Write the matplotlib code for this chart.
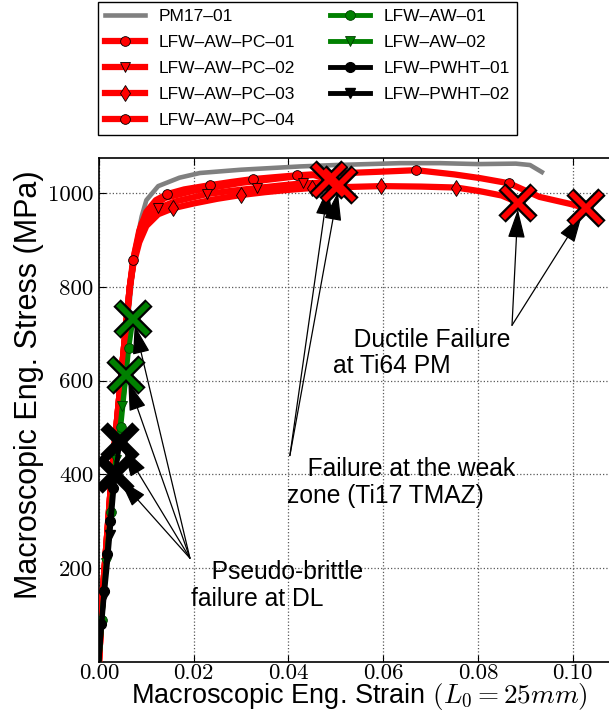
import matplotlib
matplotlib.use('Agg')
import matplotlib.pyplot as plt
from matplotlib.ticker import FuncFormatter

plt.rcParams['font.family'] = ['Liberation Sans', 'DejaVu Sans']
plt.rcParams['mathtext.fontset'] = 'cm'
plt.rcParams['axes.formatter.use_mathtext'] = True

# ---------------- data ----------------
pm_strain = [0, 0.0010, 0.0040, 0.0070, 0.0083, 0.0090, 0.0100, 0.0125, 0.0170, 0.0213,
             0.030, 0.0425, 0.050, 0.0636, 0.072, 0.080, 0.088, 0.091, 0.0935]
pm_stress = [0, 200, 520, 820, 915, 950, 985, 1015, 1033, 1043,
             1050, 1057, 1060, 1064, 1064, 1062, 1063, 1060, 1045]

pc1_strain = [0, 0.0008, 0.0027, 0.0046, 0.0065, 0.0072, 0.0085, 0.0100, 0.0120, 0.0144,
              0.0180, 0.0234, 0.0280, 0.0325, 0.0370, 0.0418, 0.0450, 0.0486]
pc1_stress = [0, 150, 400, 600, 800, 857, 920, 960, 985, 998,
              1008, 1017, 1024, 1030, 1034, 1038, 1040, 1028]
pc1_mk_strain = [0.0072, 0.0144, 0.0234, 0.0325, 0.0418]
pc1_mk_stress = [857, 998, 1017, 1030, 1038]

pc2_strain = [0, 0.0008, 0.0027, 0.0046, 0.0065, 0.0072, 0.0085, 0.0100, 0.0125, 0.0160,
              0.0228, 0.0280, 0.0334, 0.0380, 0.0430, 0.0470, 0.0507]
pc2_stress = [0, 150, 400, 600, 800, 850, 905, 940, 968, 982,
              998, 1005, 1011, 1016, 1021, 1022, 1017]
pc2_mk_strain = [0.0125, 0.0228, 0.0334, 0.0430]
pc2_mk_stress = [968, 998, 1011, 1021]

pc3_strain = [0, 0.0008, 0.0027, 0.0046, 0.0065, 0.0072, 0.0085, 0.0100, 0.0125, 0.0157,
              0.0200, 0.0250, 0.0300, 0.0350, 0.0400, 0.0450, 0.0520, 0.0596, 0.0680,
              0.0754, 0.0805, 0.0850, 0.0885]
pc3_stress = [0, 150, 400, 600, 800, 845, 895, 930, 955, 968,
              978, 988, 996, 1002, 1007, 1011, 1013, 1015, 1014,
              1012, 1004, 995, 980]
pc3_mk_strain = [0.0157, 0.0300, 0.0450, 0.0596, 0.0754]
pc3_mk_stress = [968, 996, 1011, 1015, 1012]

pc4_strain = [0, 0.0008, 0.0027, 0.0046, 0.0065, 0.0075, 0.0090, 0.0110, 0.0140, 0.0200,
              0.0300, 0.0418, 0.0500, 0.0600, 0.0670, 0.0750, 0.0805, 0.0866, 0.0930,
              0.0995, 0.1028]
pc4_stress = [0, 150, 400, 600, 800, 870, 935, 970, 990, 1005,
              1022, 1036, 1042, 1046, 1049, 1040, 1032, 1021, 992,
              977, 968]
pc4_mk_strain = [0.0670, 0.0866]
pc4_mk_stress = [1049, 1021]

aw1_strain = [0, 0.0006, 0.0015, 0.0025, 0.0035, 0.0046, 0.0055, 0.0063, 0.0072]
aw1_stress = [0, 90, 200, 320, 420, 500, 590, 670, 732]
aw1_mk_strain = [0.0006, 0.0025, 0.0046, 0.0063]
aw1_mk_stress = [90, 320, 500, 670]

aw2_strain = [0, 0.0006, 0.0015, 0.0025, 0.0035, 0.0043, 0.0049, 0.0057]
aw2_stress = [0, 90, 210, 330, 430, 490, 545, 611]
aw2_mk_strain = [0.0015, 0.0035, 0.0049]
aw2_mk_stress = [210, 430, 545]

pw1_strain = [0, 0.0005, 0.0010, 0.0017, 0.0023, 0.0030, 0.0037, 0.0044]
pw1_stress = [0, 80, 150, 230, 300, 370, 420, 468]
pw1_mk_strain = [0.0005, 0.0010, 0.0017, 0.0023, 0.0030]
pw1_mk_stress = [80, 150, 230, 300, 370]

pw2_strain = [0, 0.0005, 0.0011, 0.0017, 0.0023, 0.0029, 0.0034]
pw2_stress = [0, 70, 140, 200, 270, 340, 400]
pw2_mk_strain = [0.0011, 0.0023]
pw2_mk_stress = [140, 270]

labels = ['PM17\u201301', 'LFW\u2013AW\u2013PC\u201301', 'LFW\u2013AW\u2013PC\u201302',
          'LFW\u2013AW\u2013PC\u201303', 'LFW\u2013AW\u2013PC\u201304',
          'LFW\u2013AW\u201301', 'LFW\u2013AW\u201302', 'LFW\u2013PWHT\u201301', 'LFW\u2013PWHT\u201302']

x_ticks = [0.00, 0.02, 0.04, 0.06, 0.08, 0.10]
y_ticks = [200, 400, 600, 800, 1000]

# ---------------- figure ----------------
fig = plt.figure(figsize=(6.09, 7.22), dpi=100)
ax = fig.add_axes([99 / 609, 60.25 / 722, 521 / 609, 503.75 / 722])
ax.set_xlim(0, 0.11)
ax.set_ylim(0, 1075)
ax.set_xticks(x_ticks)
ax.set_yticks(y_ticks)
ax.xaxis.set_major_formatter(FuncFormatter(lambda v, p: f'{v:.2f}'))
ax.yaxis.set_major_formatter(FuncFormatter(lambda v, p: f'{int(round(v))}'))
ax.grid(True, ls=':', color='0.35', lw=0.9)
ax.tick_params(direction='in', length=5, top=True, right=False, labelsize=16.5,
               labelfontfamily='cmr10')
ax.tick_params(axis='x', pad=1)
ax.tick_params(axis='y', pad=4)
for s in ['left', 'bottom', 'top']:
    ax.spines[s].set_linewidth(1.2)
ax.spines['right'].set_visible(False)

handles = []

ln, = ax.plot(pm_strain, pm_stress, color='#808080', lw=3.3, zorder=2)
handles.append(ln)

red_sets = [(pc1_strain, pc1_stress, pc1_mk_strain, pc1_mk_stress, 'o', 7),
            (pc2_strain, pc2_stress, pc2_mk_strain, pc2_mk_stress, 'v', 7),
            (pc3_strain, pc3_stress, pc3_mk_strain, pc3_mk_stress, 'd', 8),
            (pc4_strain, pc4_stress, pc4_mk_strain, pc4_mk_stress, 'o', 7)]
for xs, ys, mx, my, m, ms in red_sets:
    ln, = ax.plot(xs, ys, color='red', lw=4.5, zorder=3)
    mk, = ax.plot(mx, my, ls='none', marker=m, ms=ms, mfc='red', mec='black', mew=0.6, zorder=4)
    handles.append((ln, mk))

green_sets = [(aw1_strain, aw1_stress, aw1_mk_strain, aw1_mk_stress, 'o'),
              (aw2_strain, aw2_stress, aw2_mk_strain, aw2_mk_stress, 'v')]
for xs, ys, mx, my, m in green_sets:
    ln, = ax.plot(xs, ys, color='green', lw=3.5, zorder=5)
    mk, = ax.plot(mx, my, ls='none', marker=m, ms=7, mfc='green', mec='#004000', mew=0.6, zorder=5.5)
    handles.append((ln, mk))

black_sets = [(pw1_strain, pw1_stress, pw1_mk_strain, pw1_mk_stress, 'o'),
              (pw2_strain, pw2_stress, pw2_mk_strain, pw2_mk_stress, 'v')]
for xs, ys, mx, my, m in black_sets:
    ln, = ax.plot(xs, ys, color='black', lw=3.5, zorder=6)
    mk, = ax.plot(mx, my, ls='none', marker=m, ms=7, mfc='black', mec='black', zorder=6.5)
    handles.append((ln, mk))

# failure crosses
fail_sets = [(pc1_strain, pc1_stress, 'red'), (pc2_strain, pc2_stress, 'red'),
             (pc3_strain, pc3_stress, 'red'), (pc4_strain, pc4_stress, 'red'),
             (aw1_strain, aw1_stress, 'green'), (aw2_strain, aw2_stress, 'green'),
             (pw1_strain, pw1_stress, 'black'), (pw2_strain, pw2_stress, 'black')]
for xs, ys, c in fail_sets:
    ax.plot(xs[-1], ys[-1], marker='x', ms=23, mew=7.5, color='black', zorder=10)
    ax.plot(xs[-1], ys[-1], marker='x', ms=21, mew=4.2, color=c, zorder=11)

# annotations
arrow_kw = dict(arrowstyle='-|>,head_length=0.6,head_width=0.18', mutation_scale=30,
                lw=0.9, color='black', shrinkA=0, shrinkB=5)
groups = [((0.0192, 221), [(aw1_strain, aw1_stress), (aw2_strain, aw2_stress),
                           (pw1_strain, pw1_stress), (pw2_strain, pw2_stress)]),
          ((0.0403, 440), [(pc1_strain, pc1_stress), (pc2_strain, pc2_stress)]),
          ((0.0872, 718), [(pc3_strain, pc3_stress), (pc4_strain, pc4_stress)])]
for src, targets in groups:
    for xs, ys in targets:
        ax.annotate('', xy=(xs[-1], ys[-1]), xytext=src, arrowprops=arrow_kw, zorder=9)

txt_kw = dict(fontsize=17.7, ha='left', va='top', linespacing=1.15, zorder=12)
ax.text(0.0194, 217, '   Pseudo-brittle\nfailure at DL', **txt_kw)
ax.text(0.0397, 437, '   Failure at the weak\nzone (Ti17 TMAZ)', **txt_kw)
ax.text(0.0494, 713, '   Ductile Failure\nat Ti64 PM', **txt_kw)

ax.set_xlabel('Macroscopic Eng. Strain $(L_0 = 25mm)$', fontsize=19.5, labelpad=-1)
ax.set_ylabel('Macroscopic Eng. Stress (MPa)', fontsize=22)
ax.yaxis.set_label_coords(-0.105, 0.55)

fig.legend(handles, labels, loc='upper left', bbox_to_anchor=(98 / 609, 1 - 2 / 722),
           ncol=2, fontsize=12.5, frameon=True, fancybox=False, edgecolor='black',
           framealpha=1, handlelength=2.3, columnspacing=2.0, labelspacing=0.62,
           borderaxespad=0)

fig.savefig('out.png', dpi=100)
